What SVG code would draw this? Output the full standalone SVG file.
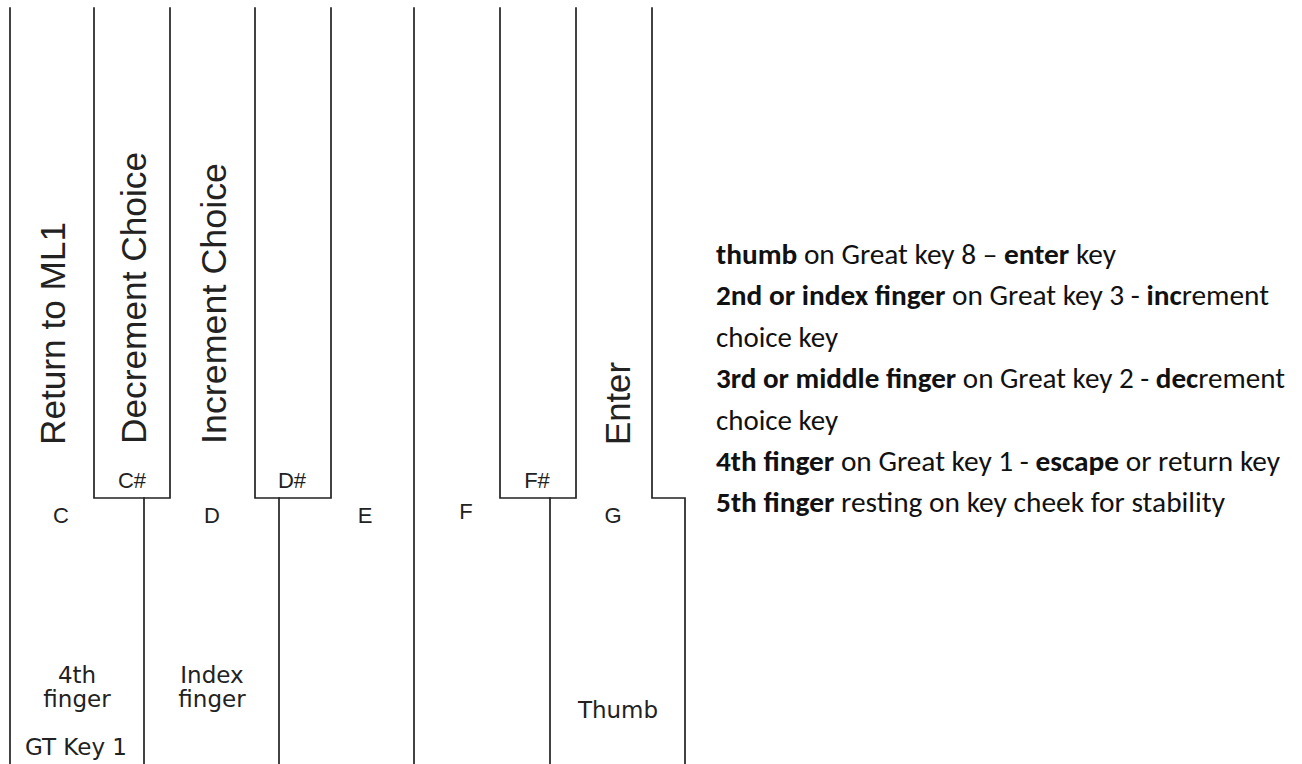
<svg xmlns="http://www.w3.org/2000/svg" width="1302" height="764" viewBox="0 0 1302 764">
<style>
.ln{fill:none;stroke:#222;stroke-width:1.7;stroke-linecap:square}
.big{font-family:"Liberation Sans",Arial,sans-serif;font-size:35px;fill:#222}
.note{font-family:"Liberation Sans",Arial,sans-serif;font-size:22px;fill:#222;text-anchor:middle}
.fing{font-family:"DejaVu Sans",sans-serif;font-size:23px;fill:#222;text-anchor:middle}
.desc{font-family:Carlito,Lato,"Liberation Sans",sans-serif;font-size:28px;fill:#111}
.desc .b{font-weight:bold}
</style>
<rect width="1302" height="764" fill="#fff"/>
<g id="connectors">
<line class="ln" x1="10" y1="8" x2="10" y2="764"/>
<line class="ln" x1="144" y1="498" x2="144" y2="764"/>
<line class="ln" x1="279" y1="498" x2="279" y2="764"/>
<line class="ln" x1="414" y1="8" x2="414" y2="764"/>
<line class="ln" x1="550" y1="498" x2="550" y2="764"/>
</g>
<g id="key-C">
<text class="big" transform="translate(65,445) rotate(-90)" textLength="223" lengthAdjust="spacingAndGlyphs">Return to ML1</text>
<text class="note" x="61" y="523">C</text>
<text class="fing" x="77" y="683">4th</text>
<text class="fing" x="77" y="707">finger</text>
<text class="fing" x="76" y="755" font-size="24">GT Key 1</text>
</g>
<g id="key-Csharp">
<path class="ln" d="M94 8 V498 H170 V8"/>
<text class="big" transform="translate(146,444) rotate(-90)" textLength="292" lengthAdjust="spacingAndGlyphs">Decrement Choice</text>
<text class="note" x="132" y="488">C#</text>
</g>
<g id="key-D">
<text class="big" transform="translate(226,444) rotate(-90)" textLength="281" lengthAdjust="spacingAndGlyphs">Increment Choice</text>
<text class="note" x="212" y="523">D</text>
<text class="fing" x="212" y="683">Index</text>
<text class="fing" x="212" y="707">finger</text>
</g>
<g id="key-Dsharp">
<path class="ln" d="M255 8 V498 H331 V8"/>
<text class="note" x="292" y="488">D#</text>
</g>
<g id="key-E">
<text class="note" x="365" y="523">E</text>
</g>
<g id="key-F">
<text class="note" x="466" y="519">F</text>
</g>
<g id="key-Fsharp">
<path class="ln" d="M500 8 V498 H576 V8"/>
<text class="note" x="537" y="488">F#</text>
</g>
<g id="key-G">
<path class="ln" d="M652 8 V498 H685 V764"/>
<text class="big" transform="translate(630,445) rotate(-90)" textLength="83" lengthAdjust="spacingAndGlyphs">Enter</text>
<text class="note" x="613" y="523">G</text>
<text class="fing" x="618" y="718" font-size="24">Thumb</text>
</g>
<g id="legend" class="desc">
<text x="716" y="264" textLength="400" lengthAdjust="spacingAndGlyphs"><tspan class="b">thumb</tspan> on Great key 8 – <tspan class="b">enter</tspan> key</text>
<text x="716" y="305" textLength="553" lengthAdjust="spacingAndGlyphs"><tspan class="b">2nd or index finger</tspan> on Great key 3 - <tspan class="b">inc</tspan>rement</text>
<text x="716" y="347" textLength="122" lengthAdjust="spacingAndGlyphs">choice key</text>
<text x="716" y="388" textLength="569" lengthAdjust="spacingAndGlyphs"><tspan class="b">3rd or middle finger</tspan> on Great key 2 - <tspan class="b">dec</tspan>rement</text>
<text x="716" y="430" textLength="122" lengthAdjust="spacingAndGlyphs">choice key</text>
<text x="716" y="471" textLength="564" lengthAdjust="spacingAndGlyphs"><tspan class="b">4th finger</tspan> on Great key 1 - <tspan class="b">escape</tspan> or return key</text>
<text x="716" y="512" textLength="509" lengthAdjust="spacingAndGlyphs"><tspan class="b">5th finger</tspan> resting on key cheek for stability</text>
</g>
</svg>
